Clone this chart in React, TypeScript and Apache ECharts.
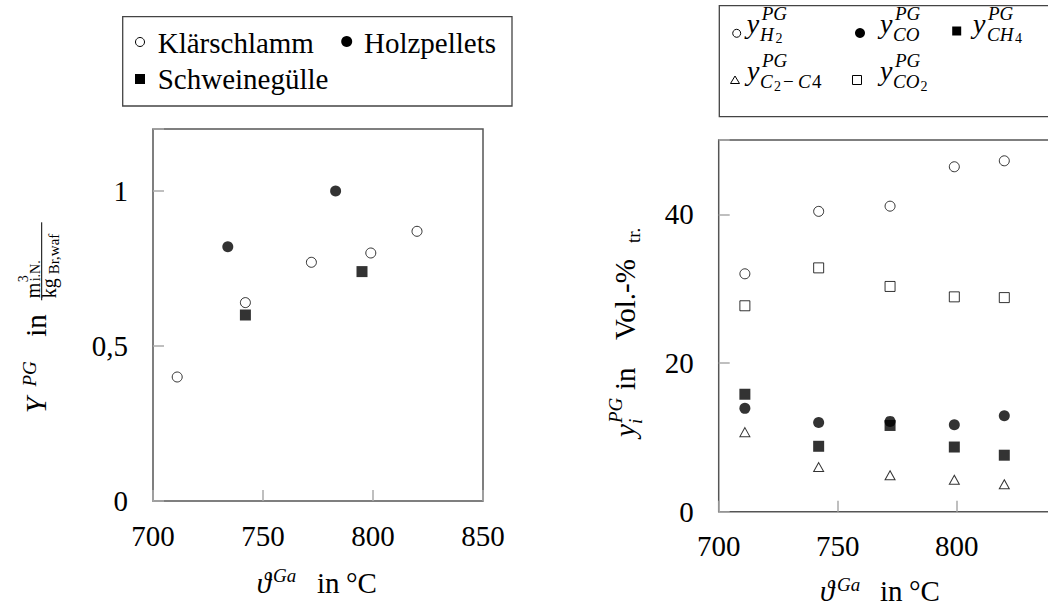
import React, { useEffect, useRef } from "react";
import * as echarts from "echarts";

const FF = "'Liberation Serif', 'DejaVu Serif', serif";

// Shared temperature axis
const xTicks = [700, 750, 800, 850];
const rightXTicks = [700, 750, 800];

// Left chart: yield
const sludgeT = [711, 742, 772, 799, 820];
const sludgeY = [0.4, 0.64, 0.77, 0.8, 0.87];
const pelletT = [734, 783];
const pelletY = [0.82, 1.0];
const manureT = [742, 795];
const manureY = [0.6, 0.74];
const leftYTicks = [0, 0.5, 1];
const leftYLabels = ["0", "0,5", "1"];

// Right chart: gas composition
const gasT = [711, 742, 772, 799, 820];
const yH2 = [32.0, 40.4, 41.1, 46.4, 47.2];
const yCO = [13.9, 12.0, 12.15, 11.7, 12.9];
const yCH4 = [15.8, 8.8, 11.6, 8.7, 7.6];
const yC2C4 = [10.7, 6.0, 4.9, 4.3, 3.7];
const yCO2 = [27.7, 32.8, 30.3, 28.9, 28.8];
const rightYTicks = [0, 20, 40];
const rightYLabels = ["0", "20", "40"];

const zip = (a: number[], b: number[]) => a.map((v, i) => [v, b[i]]);

const T = (x: number, base: number, text: string, size: number, italic = false) => ({
  type: "text",
  x,
  y: base - 0.3375 * size,
  style: {
    text,
    fontFamily: FF,
    fontSize: size,
    fontStyle: italic ? "italic" : "normal",
    fill: "#000",
    textAlign: "left",
    textVerticalAlign: "middle",
    verticalAlign: "middle",
  },
});

const openStyle = { color: "#fff", borderColor: "#000", borderWidth: 1 };
const fillStyle = { color: "#000" };

function tickFormatter(vals: number[], labels: string[]) {
  return (v: number) => {
    const i = vals.findIndex((t) => Math.abs(t - v) < 1e-9);
    return i >= 0 ? labels[i] : "";
  };
}

function xAxisFor(grid: number, shown: number[]) {
  return {
    gridIndex: grid,
    type: "value",
    min: 700,
    max: 850,
    interval: 50,
    axisLine: { show: false },
    splitLine: { show: false },
    axisTick: { inside: true, length: 11, lineStyle: { color: "#aaa", width: 1.5 } },
    axisLabel: {
      margin: 20,
      fontFamily: FF,
      fontSize: 29,
      color: "#000",
      formatter: tickFormatter(shown, shown.map(String)),
    },
  };
}

function yAxisFor(grid: number, max: number, interval: number, vals: number[], labels: string[]) {
  return {
    gridIndex: grid,
    type: "value",
    min: 0,
    max,
    interval,
    axisLine: { show: false },
    splitLine: { show: false },
    axisTick: { inside: true, length: 11, lineStyle: { color: "#aaa", width: 1.5 } },
    axisLabel: {
      margin: 25,
      fontFamily: FF,
      fontSize: 29,
      color: "#000",
      formatter: tickFormatter(vals, labels),
    },
  };
}

function scatter(name: string, xi: number, data: number[][], symbol: string, size: any, style: any) {
  return {
    name,
    type: "scatter",
    xAxisIndex: xi,
    yAxisIndex: xi,
    data,
    symbol,
    symbolSize: size,
    itemStyle: style,
    emphasis: { disabled: true },
  };
}

function buildGraphic() {
  const g: any[] = [];
  // Left legend
  g.push({ type: "rect", shape: { x: 122.7, y: 16.7, width: 389.3, height: 89.3 }, style: { fill: "none", stroke: "#444", lineWidth: 1.3 } });
  g.push({ type: "circle", shape: { cx: 140, cy: 42, r: 4.5 }, style: { fill: "#fff", stroke: "#000", lineWidth: 1 } });
  g.push(T(157.7, 52.3, "Klärschlamm", 29));
  g.push({ type: "circle", shape: { cx: 346.7, cy: 41.5, r: 5.5 }, style: { fill: "#000" } });
  g.push(T(364, 52.3, "Holzpellets", 29));
  g.push({ type: "rect", shape: { x: 135, y: 74, width: 10, height: 10 }, style: { fill: "#000" } });
  g.push(T(157.7, 88.3, "Schweinegülle", 29));

  // Right legend
  g.push({ type: "rect", shape: { x: 719.3, y: 5.7, width: 420, height: 111 }, style: { fill: "none", stroke: "#444", lineWidth: 1.3 } });
  g.push({ type: "circle", shape: { cx: 736.7, cy: 33.3, r: 4 }, style: { fill: "#fff", stroke: "#000", lineWidth: 1 } });
  g.push(T(746.7, 32.6, "y", 28, true), T(761.7, 20, "PG", 19, true), T(760, 40.5, "H", 19, true), T(775.5, 43.5, "2", 14));
  g.push({ type: "circle", shape: { cx: 860, cy: 33, r: 5 }, style: { fill: "#000" } });
  g.push(T(880, 32.6, "y", 28, true), T(895, 20, "PG", 19, true), T(893, 40.5, "CO", 19, true));
  g.push({ type: "rect", shape: { x: 952.2, y: 26.5, width: 9, height: 9 }, style: { fill: "#000" } });
  g.push(T(973, 32.6, "y", 28, true), T(988, 20, "PG", 19, true), T(987, 40.5, "CH", 19, true), T(1015, 43.5, "4", 14));
  g.push({ type: "polygon", shape: { points: [[735, 76], [739.5, 83.5], [730.5, 83.5]] }, style: { fill: "#fff", stroke: "#000", lineWidth: 1 } });
  g.push(T(747, 79.6, "y", 28, true), T(762, 67, "PG", 19, true), T(760, 88, "C", 19, true), T(774, 91, "2", 14), T(783, 88, "−", 19), T(798, 88, "C", 19, true), T(812, 88, "4", 19));
  g.push({ type: "rect", shape: { x: 852.5, y: 75.5, width: 9, height: 9 }, style: { fill: "#fff", stroke: "#000", lineWidth: 1 } });
  g.push(T(880, 79.6, "y", 28, true), T(895, 67, "PG", 19, true), T(893, 88, "CO", 19, true), T(920.5, 91, "2", 14));

  // Left x title
  g.push(T(256.7, 593, "ϑ", 29, true), T(273, 582, "Ga", 19, true), T(317, 593, "in", 29), T(346, 593, "°C", 29));
  // Right x title
  g.push(T(820, 601, "ϑ", 29, true), T(837, 591, "Ga", 19, true), T(880, 601, "in", 29), T(909, 601, "°C", 29));

  // Left y title (rotated)
  g.push({
    type: "group",
    x: 45.7,
    y: 413.3,
    rotation: Math.PI / 2,
    children: [
      T(0, 0, "Y", 29, true),
      T(26.7, -10, "PG", 19, true),
      T(76.6, 0, "in", 29),
      T(115, -6, "m", 20),
      T(131, -17, "3", 14),
      T(132, -5, "i.N.", 14),
      { type: "line", shape: { x1: 113, y1: -4, x2: 191, y2: -4 }, style: { stroke: "#000", lineWidth: 1 } },
      T(115, 10.5, "kg", 20),
      T(139, 13, "Br,waf", 15),
    ],
  });
  // Right y title (rotated)
  g.push({
    type: "group",
    x: 635,
    y: 437,
    rotation: Math.PI / 2,
    children: [
      T(0, 0, "y", 29, true),
      T(14, -13, "PG", 19, true),
      T(13, 7, "i", 19, true),
      T(47, 0, "in", 29),
      T(97, 0, "Vol.-%", 29),
      T(194, 5, "tr.", 19),
    ],
  });
  return g;
}

export default function App() {
  const ref = useRef<HTMLDivElement>(null);
  useEffect(() => {
    if (!ref.current) return;
    const chart = echarts.init(ref.current, undefined, { renderer: "svg" });
    chart.setOption({
      animation: false,
      grid: [
        { left: 153, top: 129, width: 330, height: 372, show: true, borderColor: "#555", borderWidth: 1.5, backgroundColor: "transparent" },
        { left: 718.7, top: 140, width: 357, height: 371.7, show: true, borderColor: "#555", borderWidth: 1.5, backgroundColor: "transparent" },
      ],
      xAxis: [xAxisFor(0, xTicks), xAxisFor(1, rightXTicks)],
      yAxis: [
        yAxisFor(0, 1.2, 0.5, leftYTicks, leftYLabels),
        yAxisFor(1, 50, 20, rightYTicks, rightYLabels),
      ],
      series: [
        scatter("Klärschlamm", 0, zip(sludgeT, sludgeY), "circle", 10, openStyle),
        scatter("Holzpellets", 0, zip(pelletT, pelletY), "circle", 11, fillStyle),
        scatter("Schweinegülle", 0, zip(manureT, manureY), "rect", 11, fillStyle),
        scatter("y_H2", 1, zip(gasT, yH2), "circle", 10, openStyle),
        scatter("y_CO", 1, zip(gasT, yCO), "circle", 11, fillStyle),
        scatter("y_CH4", 1, zip(gasT, yCH4), "rect", 11, fillStyle),
        scatter("y_C2-C4", 1, zip(gasT, yC2C4), "triangle", [10, 9], openStyle),
        scatter("y_CO2", 1, zip(gasT, yCO2), "rect", 10, openStyle),
      ],
      graphic: buildGraphic(),
    });
    return () => chart.dispose();
  }, []);
  return (
    <div style={{ position: "fixed", left: 0, top: 0, width: 1048, height: 610, overflow: "hidden", background: "#fff" }}>
      <div ref={ref} style={{ width: 1100, height: 610 }} />
    </div>
  );
}
